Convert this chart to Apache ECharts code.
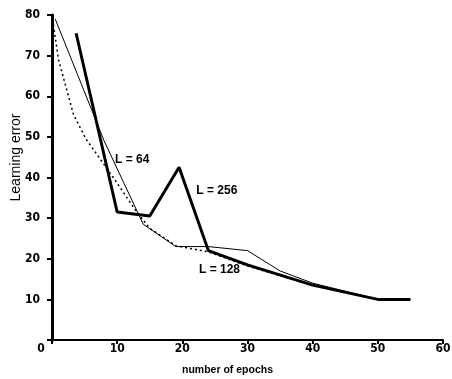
<!DOCTYPE html>
<html>
<head>
<meta charset="utf-8">
<script src="https://cdn.jsdelivr.net/npm/echarts@6/dist/echarts.min.js"></script>
<style>
  html, body { margin: 0; padding: 0; background: #fff; }
  #chart { width: 452px; height: 379px; }
</style>
</head>
<body>
<div id="chart"></div>
<script>
// values (epochs, learning error)
const epochs64 = [0.5, 8, 14, 19, 24, 30, 35, 40, 50, 55]
const err64 = [79, 49, 28.5, 23, 23, 22, 17, 14, 10, 10]

const epochs256 = [3.7, 10, 15, 19.5, 24, 30, 40, 50, 55]
const err256 = [75.5, 31.5, 30.5, 42.5, 22, 18.5, 13.5, 10, 10]

const epochs128 = [0, 1, 3.3, 5.2, 9.4, 13, 15, 19, 24, 30, 40, 50, 55]
const err128 = [80, 69, 55.5, 49.5, 40, 31.5, 27.5, 23.2, 21.7, 18.2, 13.5, 10, 10]

const labels = ['L = 64', 'L = 256', 'L = 128']
const labelAt = [[12.3, 44.3], [25.3, 36.7], [25.7, 17.2]]

function pairs (xs, ys) {
  return xs.map((x, i) => [x, ys[i]])
}

const font = 'Liberation Sans'
const tickFont = 'DejaVu Sans Condensed'

function curveLabel (i) {
  return {
    symbol: 'circle',
    symbolSize: 1,
    itemStyle: { color: 'rgba(0,0,0,0)' },
    label: {
      show: true,
      position: 'inside',
      color: '#000',
      fontFamily: font,
      fontWeight: 'bold',
      fontSize: 12,
      formatter: labels[i]
    },
    data: [{ coord: labelAt[i] }]
  }
}

const chart = echarts.init(document.getElementById('chart'))

chart.setOption({
  animation: false,
  backgroundColor: '#fff',
  grid: { left: 52, right: 9, top: 15, bottom: 39, containLabel: false, outerBoundsMode: 'none' },
  xAxis: {
    type: 'value',
    min: 0,
    max: 60,
    interval: 10,
    name: 'number of epochs',
    nameLocation: 'middle',
    nameGap: 25,
    nameMoveOverlap: false,
    nameTextStyle: { color: '#000', fontFamily: font, fontWeight: 'bold', fontSize: 10.5, padding: [0, 40, 0, 0] },
    splitLine: { show: false },
    axisLine: { lineStyle: { color: '#000', width: 2 } },
    axisTick: { length: 4, lineStyle: { color: '#000', width: 2 } },
    axisLabel: {
      color: '#000',
      fontFamily: tickFont,
      fontWeight: 'bold',
      fontSize: 12,
      margin: 3,
      formatter: function (v) {
        return v === 0 ? '{z|0}' : String(v)
      },
      rich: { z: { padding: [0, 22, 0, 0], fontFamily: tickFont, fontWeight: 'bold', fontSize: 12 } }
    }
  },
  yAxis: {
    type: 'value',
    min: 0,
    max: 80,
    interval: 10,
    name: 'Learning error',
    nameLocation: 'middle',
    nameGap: 29,
    nameMoveOverlap: false,
    nameTextStyle: { color: '#000', fontFamily: font, fontSize: 14, padding: [0, 0, 0, 40] },
    splitLine: { show: false },
    axisLine: { lineStyle: { color: '#000', width: 3 } },
    axisTick: { length: 5, lineStyle: { color: '#000', width: 2 } },
    axisLabel: {
      color: '#000',
      fontFamily: tickFont,
      fontWeight: 'bold',
      fontSize: 12,
      margin: 12,
      formatter: function (v) {
        return v === 0 ? '' : String(v)
      }
    }
  },
  series: [
    {
      name: labels[0],
      type: 'line',
      data: pairs(epochs64, err64),
      showSymbol: false,
      lineStyle: { color: '#000', width: 1 },
      markPoint: curveLabel(0)
    },
    {
      name: labels[1],
      type: 'line',
      data: pairs(epochs256, err256),
      showSymbol: false,
      lineStyle: { color: '#000', width: 3 },
      markPoint: curveLabel(1)
    },
    {
      name: labels[2],
      type: 'line',
      data: pairs(epochs128, err128),
      showSymbol: false,
      lineStyle: { color: '#000', width: 1.5, type: [2, 3] },
      markPoint: curveLabel(2)
    }
  ]
})
</script>
</body>
</html>
